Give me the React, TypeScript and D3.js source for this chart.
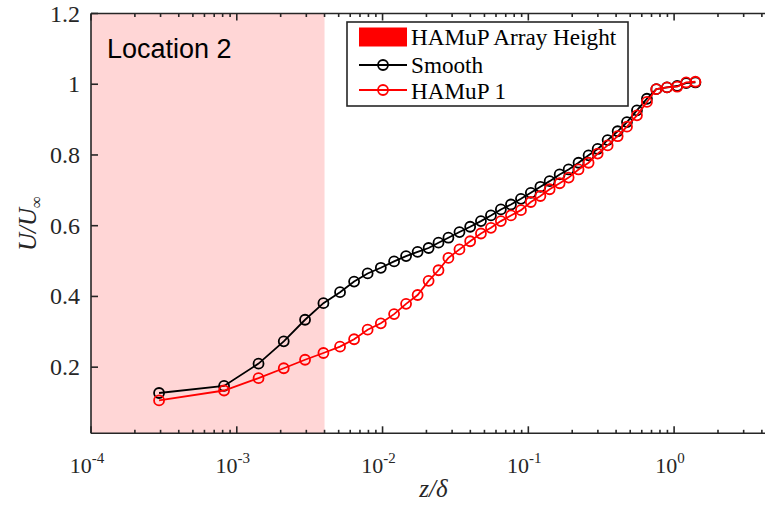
import React from "react";
import * as d3 from "d3";

const zValues = [
  2.93e-4, 8.18e-4, 1.41e-3, 2.1e-3, 2.94e-3, 3.93e-3, 5.11e-3, 6.38e-3, 7.9e-3, 9.73e-3,
  1.2e-2, 1.45e-2, 1.74e-2, 2.07e-2, 2.42e-2, 2.83e-2, 3.37e-2, 3.99e-2, 4.73e-2, 5.54e-2,
  6.48e-2, 7.6e-2, 8.9e-2, 0.104, 0.121, 0.14, 0.164, 0.189, 0.221, 0.259,
  0.299, 0.35, 0.41, 0.475, 0.556, 0.651, 0.755, 0.894, 1.05, 1.21, 1.4,
];
const smoothU = [
  0.127, 0.147, 0.21, 0.273, 0.334, 0.381, 0.412, 0.442, 0.465, 0.481,
  0.499, 0.514, 0.526, 0.537, 0.552, 0.566, 0.582, 0.597, 0.613, 0.629,
  0.646, 0.66, 0.676, 0.693, 0.71, 0.726, 0.745, 0.759, 0.778, 0.799,
  0.817, 0.842, 0.867, 0.893, 0.926, 0.959, 0.986, 0.991, 0.995, 1.003, 1.005,
];
const hamupU = [
  0.106, 0.134, 0.169, 0.197, 0.221, 0.24, 0.258, 0.279, 0.306, 0.324,
  0.35, 0.379, 0.404, 0.444, 0.474, 0.509, 0.533, 0.556, 0.578, 0.594,
  0.613, 0.629, 0.644, 0.667, 0.684, 0.703, 0.72, 0.736, 0.759, 0.778,
  0.804, 0.827, 0.853, 0.88, 0.912, 0.95, 0.986, 0.991, 0.993, 1.005, 1.007,
];
const arrayHeight = 0.004;
const xExponents = [-4, -3, -2, -1, 0];
const yTicks = [0.2, 0.4, 0.6, 0.8, 1, 1.2];
const yTickLabels = ["0.2", "0.4", "0.6", "0.8", "1", "1.2"];
const legendLabels = ["HAMuP Array Height", "Smooth", "HAMuP 1"];
const annotation = "Location 2";

const W = 765;
const H = 514;
const L = 91;
const R = 776;
const T = 13.5;
const B = 433.3;
const AX = "#262626";

const serifStyle = { fontFamily: "Liberation Serif, serif" };

export default function App() {
  const x = d3.scaleLog().domain([1e-4, 5]).range([L, R]);
  const y = d3.scaleLinear().domain([0.013, 1.2]).range([B, T]);
  const minor = x.ticks().filter((t) => {
    const e = Math.log10(t);
    return Math.abs(e - Math.round(e)) > 1e-6;
  });
  const line = d3
    .line<number>()
    .x((_, i) => x(zValues[i]))
    .y((d) => y(d));

  return (
    <svg
      width={W}
      height={H}
      style={{ position: "absolute", left: 0, top: 0, background: "#fff" }}
    >
      <defs>
        <clipPath id="plot">
          <rect x={L} y={T} width={R - L} height={B - T} />
        </clipPath>
      </defs>
      <rect
        x={L}
        y={T}
        width={x(arrayHeight) - L}
        height={B - T}
        fill="#ffd6d6"
      />
      <text
        x={107}
        y={58}
        style={{ fontFamily: "Liberation Sans, sans-serif" }}
        fontSize={27}
        fill="#000"
      >
        {annotation}
      </text>
      <g clipPath="url(#plot)">
        <path d={line(smoothU) || ""} fill="none" stroke="#000" strokeWidth={1.8} />
        {smoothU.map((u, i) => (
          <circle
            key={"s" + i}
            cx={x(zValues[i])}
            cy={y(u)}
            r={5}
            fill="none"
            stroke="#000"
            strokeWidth={1.8}
          />
        ))}
        <path d={line(hamupU) || ""} fill="none" stroke="#ff0000" strokeWidth={1.8} />
        {hamupU.map((u, i) => (
          <circle
            key={"h" + i}
            cx={x(zValues[i])}
            cy={y(u)}
            r={5}
            fill="none"
            stroke="#ff0000"
            strokeWidth={1.8}
          />
        ))}
      </g>
      <g stroke={AX} strokeWidth={1.6} fill="none">
        <line x1={L} y1={B} x2={R} y2={B} />
        <line x1={L} y1={T} x2={R} y2={T} />
        <line x1={L} y1={T} x2={L} y2={B} />
        <line x1={R} y1={T} x2={R} y2={B} />
        {xExponents.map((e) => (
          <g key={"mx" + e}>
            <line x1={x(Math.pow(10, e))} x2={x(Math.pow(10, e))} y1={B} y2={B - 7} />
            <line x1={x(Math.pow(10, e))} x2={x(Math.pow(10, e))} y1={T} y2={T + 7} />
          </g>
        ))}
        {minor.map((t, i) => (
          <g key={"mn" + i}>
            <line x1={x(t)} x2={x(t)} y1={B} y2={B - 3.5} />
            <line x1={x(t)} x2={x(t)} y1={T} y2={T + 3.5} />
          </g>
        ))}
        {yTicks.map((t) => (
          <g key={"yt" + t}>
            <line x1={L} x2={L + 7} y1={y(t)} y2={y(t)} />
            <line x1={R} x2={R - 7} y1={y(t)} y2={y(t)} />
          </g>
        ))}
      </g>
      {yTicks.map((t, i) => (
        <text
          key={"yl" + t}
          x={80}
          y={y(t) + 8}
          textAnchor="end"
          style={serifStyle}
          fontSize={24}
          fill={AX}
        >
          {yTickLabels[i]}
        </text>
      ))}
      {xExponents.map((e) => (
        <text
          key={"xl" + e}
          x={x(Math.pow(10, e)) - 4}
          y={473}
          textAnchor="middle"
          style={serifStyle}
          fontSize={22}
          fill={AX}
        >
          10
          <tspan dy={-10} fontSize={15}>
            {String(e)}
          </tspan>
        </text>
      ))}
      <text
        x={(L + R) / 2}
        y={497}
        textAnchor="middle"
        style={serifStyle}
        fontSize={25}
        fontStyle="italic"
        fill={AX}
      >
        z/δ
      </text>
      <text
        transform={`translate(36, ${(T + B) / 2}) rotate(-90)`}
        textAnchor="middle"
        style={serifStyle}
        fontSize={25}
        fontStyle="italic"
        fill={AX}
      >
        U/U
        <tspan dy={6} fontSize={17} fontStyle="normal">
          ∞
        </tspan>
      </text>
      <rect x={347} y={22} width={281} height={84} fill="#fff" stroke={AX} strokeWidth={1.6} />
      <rect x={359} y={27.5} width={48} height={19} fill="#ff0000" />
      <text x={411} y={45} style={serifStyle} fontSize={23.2} fill="#000">
        {legendLabels[0]}
      </text>
      <line x1={359} x2={407} y1={65} y2={65} stroke="#000" strokeWidth={1.8} />
      <circle cx={383} cy={65} r={5} fill="none" stroke="#000" strokeWidth={1.8} />
      <text x={411} y={72.5} style={serifStyle} fontSize={23.2} fill="#000">
        {legendLabels[1]}
      </text>
      <line x1={359} x2={407} y1={90} y2={90} stroke="#ff0000" strokeWidth={1.8} />
      <circle cx={383} cy={90} r={5} fill="none" stroke="#ff0000" strokeWidth={1.8} />
      <text x={411} y={99} style={serifStyle} fontSize={23.2} fill="#000">
        {legendLabels[2]}
      </text>
    </svg>
  );
}
